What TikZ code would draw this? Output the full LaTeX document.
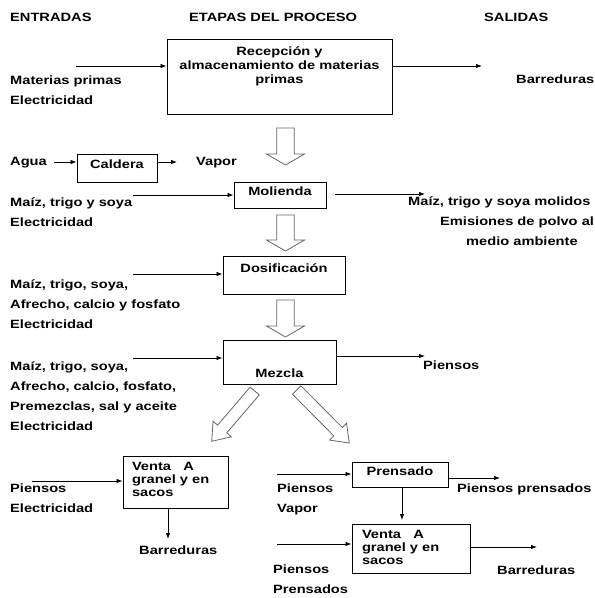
\documentclass[tikz,border=0pt]{standalone}
\usepackage{fontspec}
\setmainfont{Liberation Sans}[FakeStretch=1.22]
\usepackage{tikz}
\usetikzlibrary{
  positioning,
  calc,
  arrows.meta
}

% block arrow: from, to, half shaft, half head, head length
\newcommand{\hollowarrow}[5]{%
  \draw[hollow] let \p1=(#1), \p2=(#2),
      \n1={atan2(\y2-\y1,\x2-\x1)}, \n2={veclen(\x2-\x1,\y2-\y1)-#5} in
    ($(\p1)+(\n1+90:#3)$) -- ($(\p1)+(\n1:\n2)+(\n1+90:#3)$)
    -- ($(\p1)+(\n1:\n2)+(\n1+90:#4)$) -- (\p2)
    -- ($(\p1)+(\n1:\n2)+(\n1-90:#4)$) -- ($(\p1)+(\n1:\n2)+(\n1-90:#3)$)
    -- ($(\p1)+(\n1-90:#3)$) -- cycle;}

\begin{document}
\begin{tikzpicture}[
      x=1pt, y=-1pt,
      font=\fontsize{12}{20}\selectfont\bfseries,
      stage/.style={draw, line width=1pt, inner sep=0pt, anchor=north},
      txt/.style={anchor=base west, align=left, inner sep=0pt},
      flow/.style={-{Latex[length=6pt,width=4.5pt]}, line width=0.8pt},
      hollow/.style={draw=black!60, fill=white, line width=0.8pt}
    ]
      \useasboundingbox (0,0) rectangle (595,598);

      % Headers
      \node[txt] (h-in) at (10,21.5) {ENTRADAS};
      \node[txt] (h-proc) at (189,21.5) {ETAPAS DEL PROCESO};
      \node[txt] (h-out) at (484,21.5) {SALIDAS};

      % Process stages
      \node[stage, font=\fontsize{12}{14}\selectfont\bfseries, text height=16pt, text depth=59pt] (recep) at (279.5,39)
        {\parbox[t]{225pt}{\centering Recepción y\\almacenamiento de materias\\primas}};
      \node[stage, minimum width=80pt, text height=14pt, text depth=14pt] (caldera) at (117,154) {Caldera};
      \node[stage, minimum width=92pt, text height=13pt, text depth=13pt] (molienda) at (280,182) {Molienda};
      \node[stage, minimum width=122pt, text height=16pt, text depth=22pt] (dosif) at (284,256) {Dosificación};
      \node[stage, minimum width=113pt, text height=37pt, text depth=7pt] (mezcla) at (279.5,340) {Mezcla};
      \node[stage, font=\fontsize{12}{13}\selectfont\bfseries, inner xsep=9pt, text height=14pt, text depth=38pt] (venta1) at (175.5,456)
        {\parbox[t]{87pt}{\raggedright Venta\ \ \ A\\granel y en\\sacos}};
      \node[stage, minimum width=96pt, text height=13pt, text depth=12pt] (prensado) at (400,462) {Prensado};
      \node[stage, font=\fontsize{12}{13}\selectfont\bfseries, inner xsep=10pt, text height=14pt, text depth=35pt] (venta2) at (411,524)
        {\parbox[t]{98pt}{\raggedright Venta\ \ \ A\\granel y en\\sacos}};

      % Inputs (placed at the baseline of the last line)
      \node[txt] (in-recep) at (10,104) {Materias primas\\Electricidad};
      \node[txt] (in-agua) at (10,165) {Agua};
      \node[txt] (in-mol) at (10,226) {Maíz, trigo y soya\\Electricidad};
      \node[txt] (in-dosif) at (10,328) {Maíz, trigo, soya,\\Afrecho, calcio y fosfato\\Electricidad};
      \node[txt] (in-mezcla) at (10,430) {Maíz, trigo, soya,\\Afrecho, calcio, fosfato,\\Premezclas, sal y aceite\\Electricidad};
      \node[txt] (in-venta1) at (10,512) {Piensos\\Electricidad};
      \node[txt] (in-prens) at (277,512) {Piensos\\Vapor};
      \node[txt] (in-venta2) at (273,593) {Piensos\\Prensados};

      % Outputs
      \node[txt] (out-recep) at (516,83) {Barreduras};
      \node[txt] (out-cald) at (196,165) {Vapor};
      \node[txt] (out-mol) at (408,245) {Maíz, trigo y soya molidos\\\hspace*{32pt}Emisiones de polvo al\\\hspace*{58pt}medio ambiente};
      \node[txt] (out-mezcla) at (423,369) {Piensos};
      \node[txt] (out-venta1) at (139,554) {Barreduras};
      \node[txt] (out-prens) at (457,492) {Piensos prensados};
      \node[txt] (out-venta2) at (497,574) {Barreduras};

      % Free ends
      \coordinate (recep-in) at (76,66);
      \coordinate (recep-out) at (482,66);
      \coordinate (cald-in) at (54,162);
      \coordinate (cald-out) at (177,162);
      \coordinate (mol-in) at (133,195);
      \coordinate (mol-gap) at (335,194);
      \coordinate (mol-out) at (425,194);
      \coordinate (dosif-in) at (133,274);
      \coordinate (mezcla-in) at (133,358);
      \coordinate (mezcla-out) at (425,356);
      \coordinate (venta1-in) at (32,481);
      \coordinate (venta1-out) at (168,539);
      \coordinate (prens-in) at (277,474);
      \coordinate (prens-out) at (500,478);
      \coordinate (prens-down) at (402,520);
      \coordinate (venta2-in) at (277,544);
      \coordinate (venta2-out) at (537,547);

      % Arrows
      \draw[flow] (recep-in) -- (recep-in -| recep.west);
      \draw[flow] (recep-out -| recep.east) -- (recep-out);
      \draw[flow] (cald-in) -- (cald-in -| caldera.west);
      \draw[flow] (cald-out -| caldera.east) -- (cald-out);
      \draw[flow] (mol-in) -- (mol-in -| molienda.west);
      \draw[flow] (mol-gap) -- (mol-out);
      \draw[flow] (dosif-in) -- (dosif-in -| dosif.west);
      \draw[flow] (mezcla-in) -- (mezcla-in -| mezcla.west);
      \draw[flow] (mezcla-out -| mezcla.east) -- (mezcla-out);
      \draw[flow] (venta1-in) -- (venta1-in -| venta1.west);
      \draw[flow] (venta1-out |- venta1.south) -- (venta1-out);
      \draw[flow] (prens-in) -- (prens-in -| prensado.west);
      \draw[flow] (prens-out -| prensado.east) -- (prens-out);
      \draw[flow] (prens-down |- prensado.south) -- (prens-down);
      \draw[flow] (venta2-in) -- (venta2-in -| venta2.west);
      \draw[flow] (venta2-out -| venta2.east) -- (venta2-out);

      % Block arrows between stages
      \coordinate (b1a) at (285.5,128);   \coordinate (b1b) at (285.5,165);
      \coordinate (b2a) at (285.5,215);   \coordinate (b2b) at (285.5,251);
      \coordinate (b3a) at (285.5,300);   \coordinate (b3b) at (285.5,337);
      \coordinate (b4a) at (254.7,391);   \coordinate (b4b) at (211.7,441.3);
      \coordinate (b5a) at (296.7,390);   \coordinate (b5b) at (349.3,443);
      \hollowarrow{b1a}{b1b}{8.8pt}{19pt}{11pt}
      \hollowarrow{b2a}{b2b}{8.8pt}{19pt}{11pt}
      \hollowarrow{b3a}{b3b}{8.8pt}{19pt}{11pt}
      \hollowarrow{b4a}{b4b}{6pt}{12pt}{16pt}
      \hollowarrow{b5a}{b5b}{6pt}{12pt}{16pt}
    \end{tikzpicture}
\end{document}
